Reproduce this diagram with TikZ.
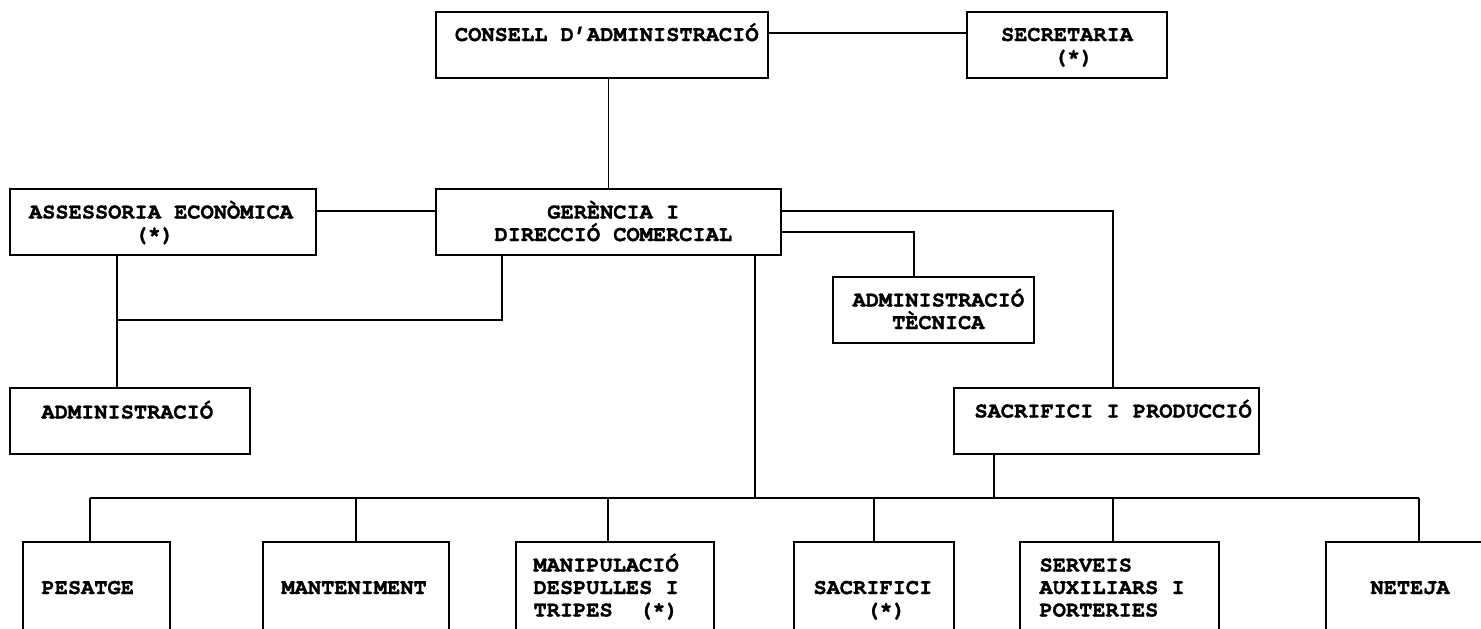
\documentclass[tikz,border=0pt]{standalone}
\usepackage{fontspec}
\newfontfamily\curfont[FakeBold=1.4]{texgyrecursor-bold.otf}
\begin{document}
\begin{tikzpicture}[x=1pt,y=-1pt,
  box/.style={draw, line width=1.4pt, inner sep=0pt, outer sep=0pt},
  conn/.style={line width=1.4pt},
  txt/.style={anchor=base west, inner sep=0pt, outer sep=0pt, font=\curfont\fontsize{22}{22.5}\selectfont}]
\useasboundingbox (0,0) rectangle (1481,629);
\fill[white] (0,0) rectangle (1481,629);
\clip (0,0) rectangle (1481,629);

% boxes
\node[box, minimum width=332pt, minimum height=66pt] (consell) at (602,45) {};
\node[box, minimum width=200pt, minimum height=66pt] (secretaria) at (1067,45) {};
\node[box, minimum width=306pt, minimum height=66pt] (assessoria) at (163,222) {};
\node[box, minimum width=345pt, minimum height=66pt] (gerencia) at (608.5,222) {};
\node[box, minimum width=201pt, minimum height=66pt] (admintec) at (933.5,310) {};
\node[box, minimum width=240pt, minimum height=66pt] (administracio) at (130,421) {};
\node[box, minimum width=305pt, minimum height=66pt] (sacprod) at (1106.5,421) {};
\node[box, minimum width=147pt, minimum height=98pt] (pesatge) at (96.5,591) {};
\node[box, minimum width=186pt, minimum height=98pt] (manteniment) at (356,591) {};
\node[box, minimum width=198pt, minimum height=98pt] (manipulacio) at (615,591) {};
\node[box, minimum width=160pt, minimum height=98pt] (sacrifici) at (874,591) {};
\node[box, minimum width=199pt, minimum height=98pt] (serveis) at (1119.5,591) {};
\node[box, minimum width=174pt, minimum height=98pt] (neteja) at (1413,591) {};

% texts
\node[txt] (t-consell) at (455,41) {CONSELL D’ADMINISTRACIÓ};
\node[txt] (t-secr1) at (1001,41) {SECRETARIA};
\node[txt] (t-secr2) at (1053.8,63.5) {(*)};
\node[txt] (t-ass1) at (29,218.5) {ASSESSORIA ECONÒMICA};
\node[txt] (t-ass2) at (134.6,241) {(*)};
\node[txt] (t-ger1) at (547.3,218.5) {GERÈNCIA I};
\node[txt] (t-ger2) at (494.5,241) {DIRECCIÓ COMERCIAL};
\node[txt] (t-at1) at (852.5,306.5) {ADMINISTRACIÓ};
\node[txt] (t-at2) at (892.1,329) {TÈCNICA};
\node[txt] (t-adm) at (41.5,418.5) {ADMINISTRACIÓ};
\node[txt] (t-sp) at (974.5,417.5) {SACRIFICI I PRODUCCIÓ};
\node[txt] (t-pes) at (41.5,594) {PESATGE};
\node[txt] (t-man) at (281.5,594) {MANTENIMENT};
\node[txt] (t-mp1) at (533.5,571.5) {MANIPULACIÓ};
\node[txt] (t-mp2) at (533.5,594) {DESPULLES I};
\node[txt] (t-mp3) at (533.5,616.5) {TRIPES\hspace{26.4pt}(*)};
\node[txt] (t-sac1) at (813.5,594) {SACRIFICI};
\node[txt] (t-sac2) at (866.3,616.5) {(*)};
\node[txt] (t-sv1) at (1039.5,571.5) {SERVEIS};
\node[txt] (t-sv2) at (1039.5,594) {AUXILIARS I};
\node[txt] (t-sv3) at (1039.5,616.5) {PORTERIES};
\node[txt] (t-net) at (1370.5,594) {NETEJA};

% junction coordinates
\coordinate (jA) at (117,320);
\coordinate (jB) at (502,320);
\coordinate (jC) at (1113,211);
\coordinate (jD) at (914,232);
\coordinate (jE) at (755,498);
\coordinate (jF) at (994,498);
\coordinate (busL) at (90,498);
\coordinate (busR) at (1419,498);
\coordinate (dMp) at (608,498);
\coordinate (dSv) at (1113,498);

% connectors
\draw[conn] ([yshift=12pt]consell.east) -- ([yshift=12pt]secretaria.west);
\draw[conn] (consell.south -| gerencia.north) -- (gerencia.north);
\draw[conn] ([yshift=11pt]assessoria.east) -- ([yshift=11pt]gerencia.west);
\draw[conn] (assessoria.south -| jA) -- (administracio.north -| jA);
\draw[conn] (jA) -- (jB) -- (gerencia.south -| jB);
\draw[conn] ([yshift=11pt]gerencia.east) -- (jC) -- (sacprod.north -| jC);
\draw[conn] ([yshift=-10pt]gerencia.east) -- (jD) -- (admintec.north -| jD);
\draw[conn] (gerencia.south -| jE) -- (jE);
\draw[conn] (sacprod.south -| jF) -- (jF);
\draw[conn] (busL) -- (busR);
\draw[conn] (busL) -- (pesatge.north -| busL);
\draw[conn] (manteniment.north |- busL) -- (manteniment.north);
\draw[conn] (dMp) -- (manipulacio.north -| dMp);
\draw[conn] (sacrifici.north |- busL) -- (sacrifici.north);
\draw[conn] (dSv) -- (serveis.north -| dSv);
\draw[conn] (busR) -- (neteja.north -| busR);
\end{tikzpicture}
\end{document}
